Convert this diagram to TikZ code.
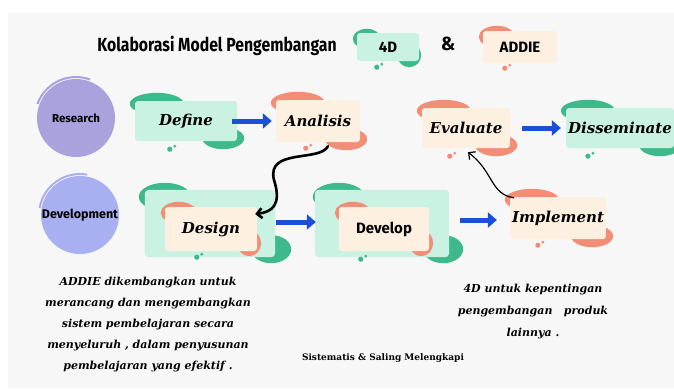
\documentclass[tikz,border=0pt]{standalone}
\usepackage{fontspec}
\setmainfont{DejaVu Serif}
\newfontfamily\handfont{Fira Sans}
\usetikzlibrary{arrows.meta,positioning,calc,backgrounds}
\definecolor{bgray}{HTML}{F7F7F7}
\definecolor{mintfill}{HTML}{C9F2E2}
\definecolor{mintedge}{HTML}{3DB98B}
\definecolor{peachfill}{HTML}{FDF0E1}
\definecolor{peachedge}{HTML}{F28D76}
\definecolor{rescol}{HTML}{A9A2DC}
\definecolor{devcol}{HTML}{A8B0F2}
\definecolor{arrowblue}{HTML}{1C4FD8}
\tikzset{
  card/.style={rounded corners=3pt, minimum height=40pt, inner sep=2pt},
  mint/.style={card, fill=mintfill},
  peach/.style={card, fill=peachfill},
  stage/.style={font=\fontsize{15}{15}\selectfont\bfseries\itshape},
  hand/.style={font=\handfont\bfseries\fontsize{15}{15}\selectfont},
  phase/.style={circle, minimum size=78pt, inner sep=0pt},
  bluearr/.style={draw=arrowblue, line width=5pt, -{Triangle[length=9pt,width=15pt]}},
  curvearr/.style={draw=black, line cap=round, -{Straight Barb[length=5pt,width=10pt]}},
  note/.style={align=center, font=\fontsize{11}{21}\selectfont\bfseries\itshape}
}
% blob edges behind a card
\newcommand{\swoosh}[2]{%
  \fill[#2] ($(#1.north west)+(22,3)$) ellipse [x radius=27, y radius=11];
  \fill[#2] ($(#1.south east)+(-14,-3)$) ellipse [x radius=21, y radius=11];
}
\newcommand{\spots}[3]{%
  \fill[#3] ($(#1)+(#2)$) circle (2.6) ++(5,-3) circle (1.6);
}
\begin{document}
\begin{tikzpicture}[x=1pt, y=-1pt]
  \useasboundingbox (0,0) rectangle (674,388);

  % title
  \node[hand, font=\handfont\bfseries\fontsize{19}{19}\selectfont] (ttl) at (217,46) {\scalebox{0.83}[1]{Kolaborasi Model Pengembangan}};
  \node[mint, minimum width=62pt, minimum height=28pt, hand] (t4d) at (388,47) {4D};
  \node[hand, font=\handfont\bfseries\fontsize{19}{19}\selectfont] (amp) at (448,44) {\&};
  \node[peach, minimum width=74pt, minimum height=32pt, hand] (taddie) at (520,47) {ADDIE};

  % phases
  \node[phase, fill=rescol, hand, font=\handfont\bfseries\fontsize{11.5}{12}\selectfont] (res) at (76,118) {Research};
  \node[phase, fill=devcol, hand, font=\handfont\bfseries\fontsize{12.5}{13}\selectfont] (dev) at (80,215) {Development};

  % stages
  \node[mint, minimum width=102pt, stage] (define) at (186,121) {Define};
  \node[peach, minimum width=84pt, minimum height=42pt, stage] (analisis) at (318,121) {Analisis};
  \node[peach, minimum width=88pt, stage] (evaluate) at (466,128) {Evaluate};
  \node[mint, minimum width=106pt, stage] (dissem) at (620,128) {Disseminate};
  \node[peach, minimum width=92pt, minimum height=44pt, stage] (designin) at (211,229) {Design};
  \node[peach, minimum width=90pt, minimum height=44pt, hand] (developin) at (384,229) {Develop};
  \node[peach, minimum width=90pt, minimum height=42pt, stage] (implement) at (558,218) {Implement};

  % notes
  \node[note] (addie) at (148,325) {ADDIE dikembangkan untuk\\merancang dan mengembangkan\\sistem pembelajaran secara\\menyeluruh , dalam penyusunan\\pembelajaran yang efektif .};
  \node[note, font=\fontsize{11}{22}\selectfont\bfseries\itshape] (fourd) at (533,312) {4D untuk kepentingan\\pengembangan \ \ produk\\lainnya .};
  \node[font=\fontsize{9}{9}\selectfont\bfseries] (sis) at (383,358) {Sistematis \& Saling Melengkapi};

  % arrows
  \draw[bluearr] ([xshift=-5pt]define.east) -- ([xshift=-4pt]analisis.west);
  \draw[bluearr] ([xshift=12pt]evaluate.east) -- ([xshift=-5pt]dissem.west);
  \draw[bluearr] ([xshift=19pt,yshift=7pt]designin.east) -- ([xshift=-23pt,yshift=7pt]developin.west);
  \draw[bluearr] ([xshift=31pt,yshift=9pt]developin.east) -- ([xshift=-13pt,yshift=-2pt]implement.west);
  \draw[curvearr, line width=2.6pt] ([xshift=10pt,yshift=-4pt]analisis.south) .. controls +(-8,16) and (266,148) .. (274,180) .. controls (282,205) and (272,212) .. ($(designin.east)+(-2,-15)$);
  \draw[curvearr, line width=1.2pt] ($(implement.north west)+(4,1)$) .. controls (490,194) and (494,172) .. ($(evaluate.south)+(2,4)$);

  \begin{scope}[on background layer]
    \fill[white] (0,0) rectangle (674,388);
    \fill[bgray] (8,13) rectangle (674,388);
    % circle brush strokes
    \draw[rescol, line width=2pt] ([shift={(200:41)}]res.center) arc (200:290:41);
    \draw[devcol, line width=2pt] ([shift={(190:41)}]dev.center) arc (190:280:41);
    % title blobs
    \fill[mintedge] ($(t4d.north west)+(10,6)$) ellipse [x radius=14, y radius=10];
    \fill[mintedge] ($(t4d.south east)+(-10,-6)$) ellipse [x radius=12, y radius=12];
    \fill[peachedge] ($(taddie.north west)+(14,6)$) ellipse [x radius=18, y radius=11];
    \spots{t4d.south west}{20,6}{mintedge}
    \spots{taddie.south west}{22,5}{peachedge}
    % stage blobs
    \swoosh{define}{mintedge}
    \swoosh{analisis}{peachedge}
    \swoosh{evaluate}{peachedge}
    \swoosh{dissem}{mintedge}
    \swoosh{implement}{peachedge}
    \spots{define.south west}{35,8}{mintedge}
    \spots{analisis.south west}{30,6}{peachedge}
    \spots{evaluate.south west}{28,8}{peachedge}
    \spots{dissem.south west}{22,8}{mintedge}
    \spots{implement.south west}{28,6}{peachedge}
    % design and develop: mint back with peach card
    \fill[mintedge] ($(designin.north west)+(0,-10)$) ellipse [x radius=26, y radius=14];
    \fill[mintedge] ($(designin.south east)+(14,-2)$) ellipse [x radius=20, y radius=14];
    \fill[mintfill, rounded corners=4pt] ($(designin.north west)+(-20,-17)$) rectangle ($(designin.south east)+(18,6)$);
    \fill[peachedge] ($(designin.north west)+(14,6)$) ellipse [x radius=18, y radius=11];
    \fill[peachedge] ($(designin.south east)+(-8,-8)$) ellipse [x radius=12, y radius=13];
    \spots{designin.south west}{32,6}{mintedge}
    \fill[mintedge] ($(developin.north west)+(0,-10)$) ellipse [x radius=26, y radius=14];
    \fill[mintedge] ($(developin.south east)+(14,-2)$) ellipse [x radius=20, y radius=14];
    \fill[mintfill, rounded corners=4pt] ($(developin.north west)+(-24,-17)$) rectangle ($(developin.south east)+(20,6)$);
    \fill[peachedge] ($(developin.north west)+(14,6)$) ellipse [x radius=18, y radius=11];
    \fill[peachedge] ($(developin.south east)+(-8,-8)$) ellipse [x radius=12, y radius=13];
    \spots{developin.south west}{22,8}{mintedge}
  \end{scope}
\end{tikzpicture}
\end{document}
